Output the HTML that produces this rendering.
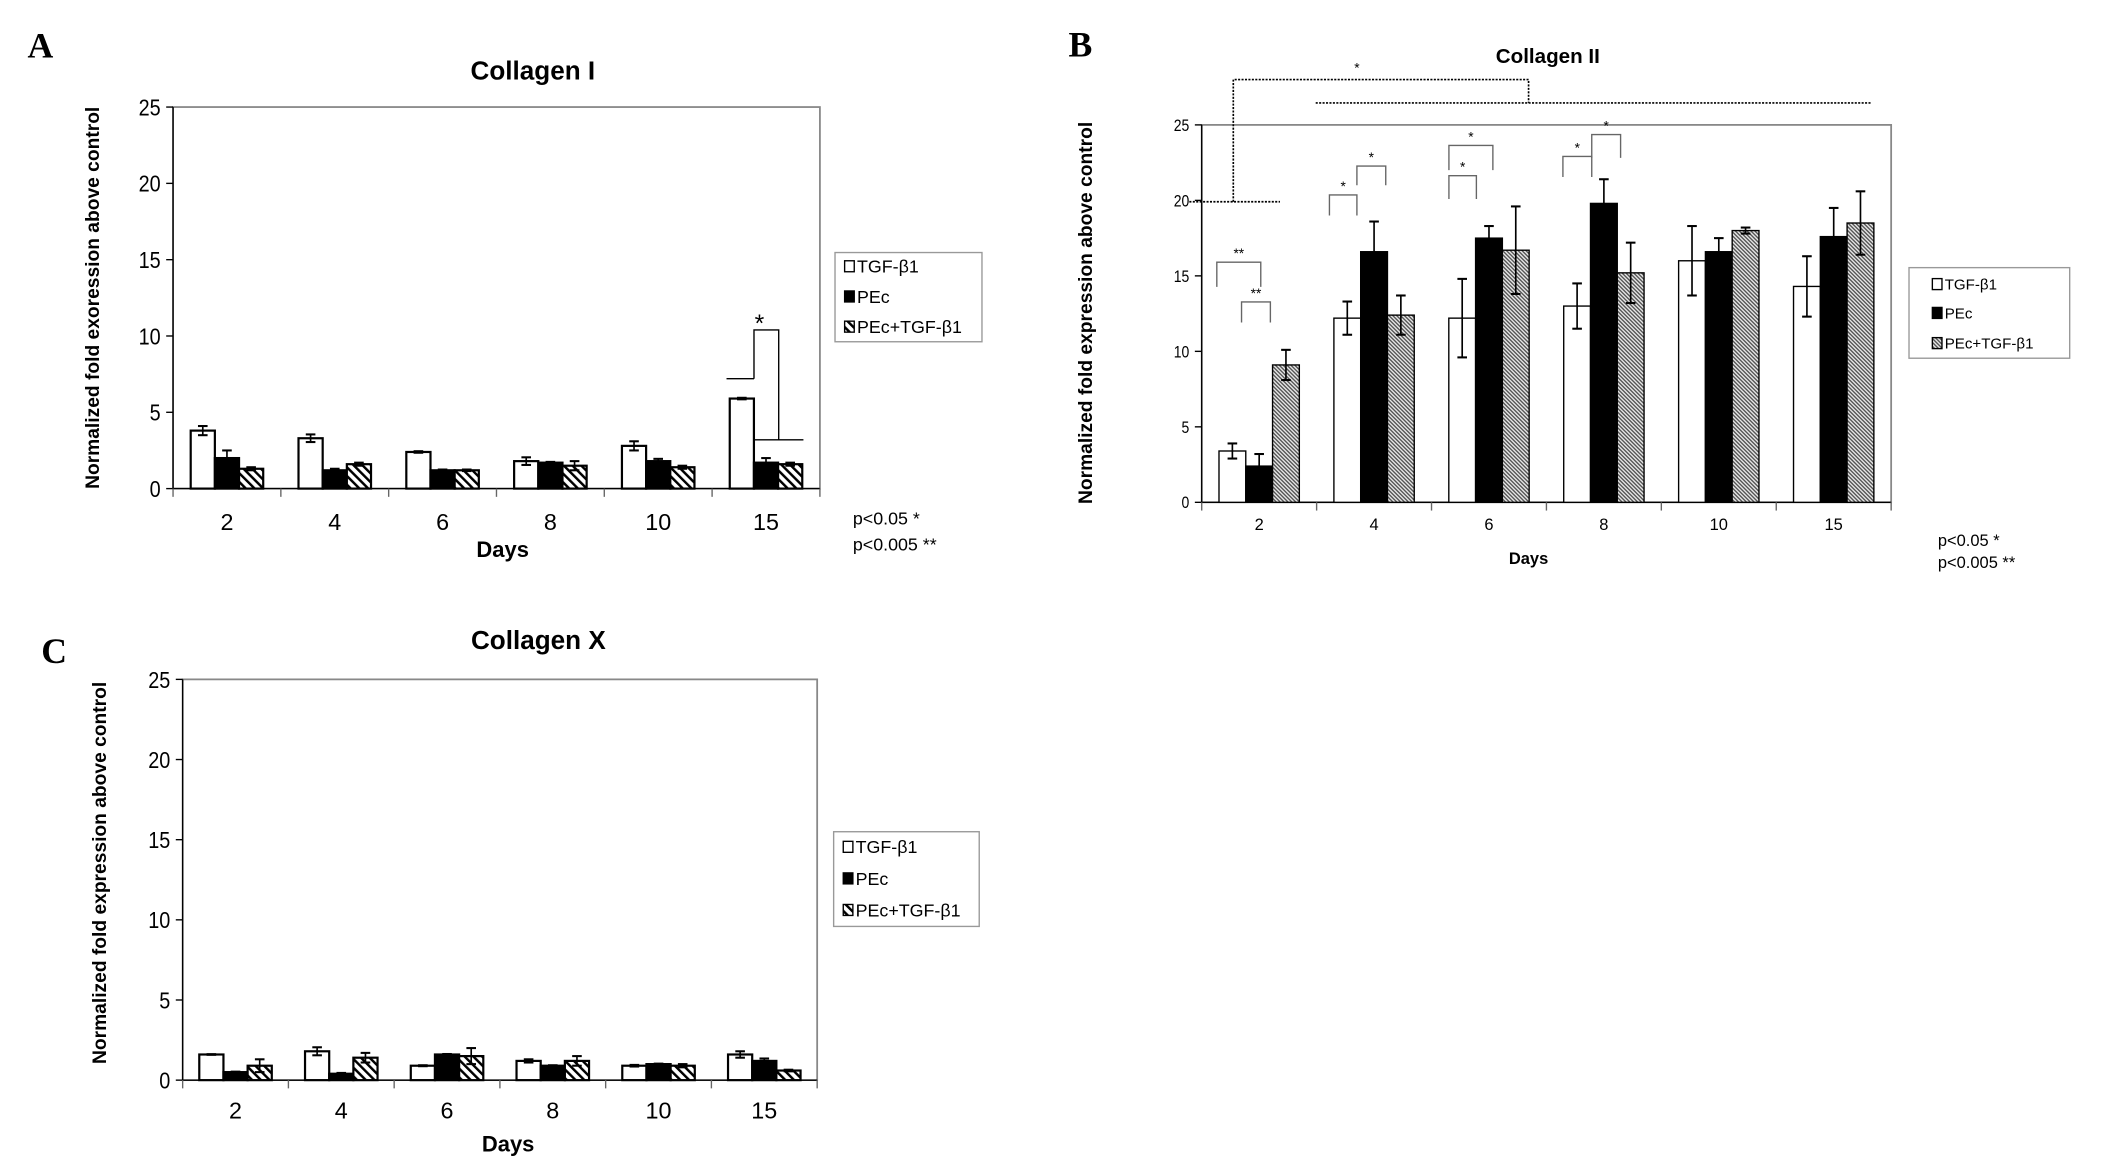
<!DOCTYPE html>
<html><head><meta charset="utf-8"><style>
html,body{margin:0;padding:0;background:#fff;}
svg{display:block;}
text{font-family:"Liberation Sans",Arial,sans-serif;fill:#000;}
text.serif{font-family:"Liberation Serif","Times New Roman",serif;}
</style></head><body>
<svg id="fig" width="2126" height="1157" viewBox="0 0 1548 843" preserveAspectRatio="none" xmlns="http://www.w3.org/2000/svg">
<defs>
<pattern id="hatchA" patternUnits="userSpaceOnUse" width="4.5" height="4.5" patternTransform="rotate(-45)">
<rect width="4.5" height="4.5" fill="#fff"/><rect width="1.8" height="4.5" fill="#000"/></pattern>
<pattern id="hatchB" patternUnits="userSpaceOnUse" width="2" height="2" patternTransform="rotate(-45)">
<rect width="2" height="2" fill="#e6e6e6"/><rect width="1" height="2" fill="#555"/></pattern>
</defs>
<g id="layer"></g>
</svg>
<script>
// ---- data ----
const days = ["2","4","6","8","10","15"];
const yTicks = [0,5,10,15,20,25];
const seriesNames = ["TGF-β1","PEc","PEc+TGF-β1"];
const colITgf = [3.8,3.3,2.4,1.8,2.8,5.9];
const colIPec = [2.0,1.2,1.2,1.7,1.8,1.7];
const colIMix = [1.3,1.6,1.2,1.5,1.4,1.6];
const colITgfErr = [0.3,0.25,0.05,0.25,0.3,0.05];
const colIPecErr = [0.5,0.1,0.05,0.05,0.15,0.3];
const colIMixErr = [0.1,0.1,0.05,0.3,0.1,0.1];
const colIITgf = [3.4,12.2,12.2,13.0,16.0,14.3];
const colIIPec = [2.4,16.6,17.5,19.8,16.6,17.6];
const colIIMix = [9.1,12.4,16.7,15.2,18.0,18.5];
const colIITgfErr = [0.5,1.1,2.6,1.5,2.3,2.0];
const colIIPecErr = [0.8,2.0,0.8,1.6,0.9,1.9];
const colIIMixErr = [1.0,1.3,2.9,2.0,0.2,2.1];
const colXTgf = [1.6,1.8,0.9,1.2,0.9,1.6];
const colXPec = [0.5,0.4,1.6,0.9,1.0,1.2];
const colXMix = [0.9,1.4,1.5,1.2,0.9,0.6];
const colXTgfErr = [0.02,0.25,0.03,0.1,0.05,0.2];
const colXPecErr = [0.03,0.05,0.03,0.03,0.03,0.15];
const colXMixErr = [0.4,0.3,0.5,0.3,0.1,0.05];

const NS="http://www.w3.org/2000/svg";
const layer=document.getElementById('layer');
function mk(tag,attrs,parent,txt){const e=document.createElementNS(NS,tag);for(const k in attrs)e.setAttribute(k,attrs[k]);if(txt!==undefined)e.textContent=txt;(parent||layer).appendChild(e);return e;}

function panel(cfg){
  const g=mk('g',{});
  
  
  const {L,R,T,B}=cfg;
  const y=v=>B-(v/25)*(B-T);
  const gw=(R-L)/days.length;
  const xc=i=>L+gw*(i+0.5);
  const lt=mk('text',{x:cfg.letter[1],y:cfg.letter[2],'class':'serif','font-weight':'bold','font-size':26},g,cfg.letter[0]);
  
  
  const tt=mk('text',{x:cfg.title[1],y:cfg.title[2],'text-anchor':'middle','font-weight':'bold','font-size':cfg.titleSize},g,cfg.title[0]);
  
  
  const fr=mk('rect',{x:L,y:T,width:R-L,height:B-T,fill:'none',stroke:'#888','stroke-width':1.3},g);
  
  
  mk('line',{x1:L,y1:T,x2:L,y2:B,stroke:'#000','stroke-width':1},g);
  mk('line',{x1:L,y1:B,x2:R,y2:B,stroke:'#000','stroke-width':1},g);
  yTicks.forEach(v=>{
    mk('line',{x1:L-5,y1:y(v),x2:L,y2:y(v),stroke:'#000'},g);
    const t=mk('text',{x:L-9,y:y(v)+cfg.tickSize*0.36,'text-anchor':'end','font-size':cfg.tickSize,transform:`translate(${L-9},0) scale(0.85,1) translate(${-(L-9)},0)`},g,String(v));
    
    
  });
  for(let i=0;i<=days.length;i++){mk('line',{x1:L+gw*i,y1:B,x2:L+gw*i,y2:B+6,stroke:'#666'},g);}
  days.forEach((d,i)=>{
    const t=mk('text',{x:xc(i),y:cfg.xlabY,'text-anchor':'middle','font-size':cfg.tickSize},g,d);
    
    
  });
  const xt=mk('text',{x:cfg.xTitle[0],y:cfg.xTitle[1],'text-anchor':'middle','font-weight':'bold','font-size':cfg.xTitleSize},g,'Days');
  
  
  const yt=mk('text',{x:0,y:0,'text-anchor':'middle','font-weight':'bold','font-size':cfg.yTitleSize,transform:`translate(${cfg.yTitle[0]},${cfg.yTitle[1]}) rotate(-90)`},g,cfg.yTitleText);
  
  
  const fills=['#fff','#000',cfg.hatch];
  const bw=cfg.bw;
  cfg.series.forEach((s,si)=>{
    s.vals.forEach((v,i)=>{
      const x=xc(i)-1.5*bw+si*bw;
      const r=mk('rect',{x:x,y:y(v),width:bw,height:B-y(v),fill:fills[si],stroke:'#000','stroke-width':cfg.bstroke},g);
      
      
      const e=s.err[i], cx=x+bw/2;
      mk('line',{x1:cx,y1:y(v+e),x2:cx,y2:y(Math.max(0,v-e)),stroke:'#000','stroke-width':1.2},g);
      mk('line',{x1:cx-3.5,y1:y(v+e),x2:cx+3.5,y2:y(v+e),stroke:'#000','stroke-width':1.5},g);
      mk('line',{x1:cx-3.5,y1:y(Math.max(0,v-e)),x2:cx+3.5,y2:y(Math.max(0,v-e)),stroke:'#000','stroke-width':1.5},g);
    });
  });
  const lg=cfg.legend;
  const lb=mk('g',{},g);
  
  
  mk('rect',{x:lg.x,y:lg.y,width:lg.w,height:lg.h,fill:'#fff',stroke:'#999'},lb);
  seriesNames.forEach((n,si)=>{
    const ey=lg.rows[si];
    const en=mk('g',{},lb);
    
    
    mk('rect',{x:lg.x+lg.sx,y:ey-4,width:7,height:8,fill:fills[si],stroke:'#000','stroke-width':1},en);
    mk('text',{x:lg.x+lg.sx+9,y:ey+lg.fs*0.36,'font-size':lg.fs},en,n);
  });
  if(cfg.pv){
  const p1=mk('text',{x:cfg.pv[0],y:cfg.pv[1],'font-size':cfg.pvSize},g,'p<0.05  *');
  
  
  const p2=mk('text',{x:cfg.pv[0],y:cfg.pv[2],'font-size':cfg.pvSize},g,'p<0.005 **');
  
  
  }
  return {g,y,xc,bw};
}

const A=panel({name:'collagen-i-chart',L:126,R:597,T:78,B:356,bw:17.6,bstroke:1.6,hatch:'url(#hatchA)',
  letter:['A',20,42],title:['Collagen I',388,58],titleSize:19,tickSize:17,xlabY:386,xTitle:[366,406],xTitleSize:16,
  yTitle:[72,217],yTitleSize:14,yTitleText:'Normalized fold exoression above control',
  series:[{vals:colITgf,err:colITgfErr},{vals:colIPec,err:colIPecErr},{vals:colIMix,err:colIMixErr}],
  legend:{x:608,y:184,w:107,h:65,sx:7,rows:[194,216,238],fs:13},pv:[621,382,401],pvSize:13});
(function(){const g=mk('g',{});
 const y=A.y;mk('path',{d:`M529 ${y(7.2)} H549 M549 ${y(7.2)} V${y(10.4)} H567 V${y(3.2)} M549 ${y(3.2)} H585`,fill:'none',stroke:'#000','stroke-width':1},g);
 mk('text',{x:553,y:242,'text-anchor':'middle','font-size':18},g,'*');})();

const Bp=panel({name:'collagen-ii-chart',L:875,R:1377,T:91,B:366,bw:19.5,bstroke:1,hatch:'url(#hatchB)',
  letter:['B',778,41],title:['Collagen II',1127,46],titleSize:15,tickSize:12,xlabY:386,xTitle:[1113,411],xTitleSize:12,
  yTitle:[795,228],yTitleSize:14,yTitleText:'Normalized fold expression above control',
  series:[{vals:colIITgf,err:colIITgfErr},{vals:colIIPec,err:colIIPecErr},{vals:colIIMix,err:colIIMixErr}],
  legend:{x:1390,y:195,w:117,h:66,sx:17,rows:[207,228,250],fs:11},pv:[1411,398,414],pvSize:12});
(function(){const g=mk('g',{});
 const dot={fill:'none',stroke:'#000','stroke-width':1.2,'stroke-dasharray':'1.5,1'};
 mk('path',{d:'M866 147 H932 M898 147 V58 H1113 V75 M958 75 H1362',...dot},g);
 mk('text',{x:988,y:53,'text-anchor':'middle','font-size':10},g,'*');
 const br=[[886,918,191,209,'**'],[904,925,220,235,'**'],[968,988,142,157,'*'],[988,1009,121,135,'*'],
   [1055,1075,128,145,'*'],[1055,1087,106,124,'*'],[1138,1159,114,129,'*'],[1159,1180,98,115,'*']];
 br.forEach(b=>{mk('path',{d:`M${b[0]} ${b[3]} V${b[2]} H${b[1]} V${b[3]}`,fill:'none',stroke:'#666','stroke-width':1},g);
   mk('text',{x:(b[0]+b[1])/2,y:b[2]-3,'text-anchor':'middle','font-size':10},g,b[4]);});})();

panel({name:'collagen-x-chart',L:133,R:595,T:495,B:787,bw:17.6,bstroke:1.6,hatch:'url(#hatchA)',
  letter:['C',30,483],title:['Collagen X',392,473],titleSize:19,tickSize:17,xlabY:815,xTitle:[370,839],xTitleSize:16,
  yTitle:[77,636],yTitleSize:14,yTitleText:'Normalized fold expression above control',
  series:[{vals:colXTgf,err:colXTgfErr},{vals:colXPec,err:colXPecErr},{vals:colXMix,err:colXMixErr}],
  legend:{x:607,y:606,w:106,h:69,sx:7,rows:[617,640,663],fs:13},pv:null,pvSize:1});
</script>
</body></html>
